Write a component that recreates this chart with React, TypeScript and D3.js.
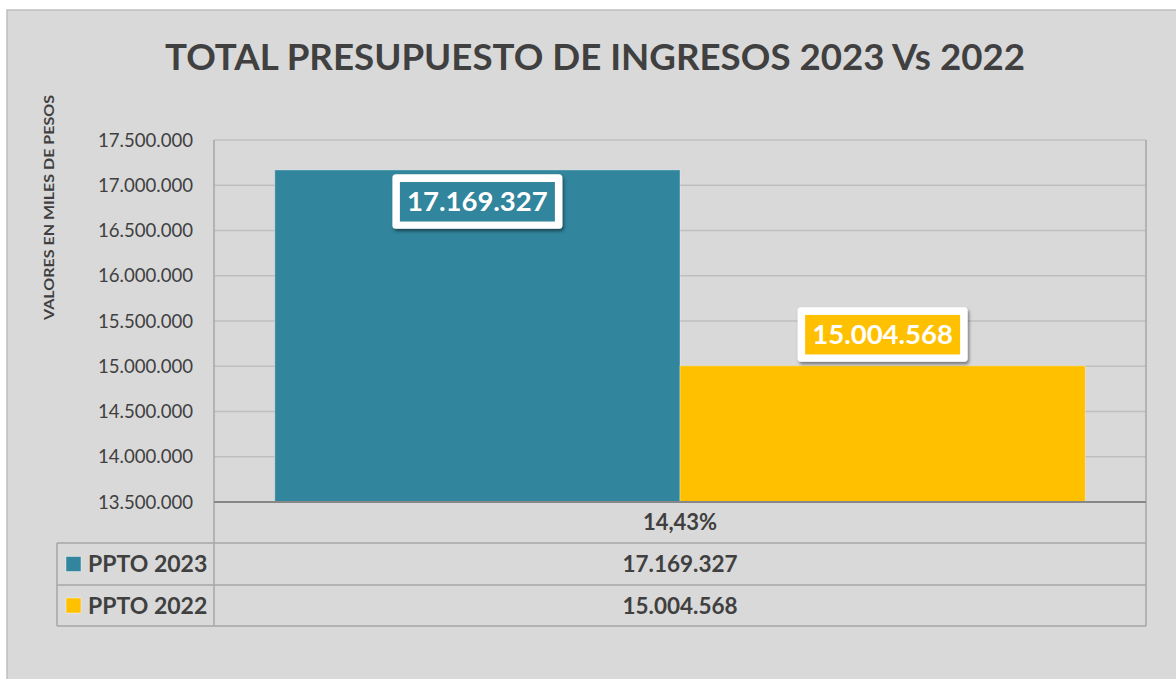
import React from "react";
import * as d3 from "d3";

const title = "TOTAL PRESUPUESTO DE INGRESOS 2023 Vs 2022";
const yAxisTitle = "VALORES EN MILES DE PESOS";
const seriesNames = ["PPTO 2023", "PPTO 2022"];
const seriesValues = [17169327, 15004568];
const seriesColors = ["#31859C", "#FFC000"];
const variationLabels = ["14,43%"];
const yDomain = [13500000, 17500000];
const yTickStep = 500000;

const W = 1176;
const H = 679;
const plotLeft = 214;
const plotRight = 1146;
const plotTop = 140;
const plotBottom = 502;
const tableRows = [502, 543, 585, 626];
const legendLeft = 57;
const textColor = "#404040";
const font = "Lato, 'Open Sans', sans-serif";

const locale = d3.formatLocale({
  decimal: ",",
  thousands: ".",
  grouping: [3],
  currency: ["$", ""],
});
const fmt = locale.format(",.0f");

export default function App() {
  const y = d3.scaleLinear().domain(yDomain).range([plotBottom, plotTop]);
  const ticks = d3.range(yDomain[0], yDomain[1] + 1, yTickStep);
  const x = d3
    .scaleBand<string>()
    .domain(seriesNames)
    .range([plotLeft, plotRight])
    .paddingInner(0)
    .paddingOuter(0.15);
  const midX = (plotLeft + plotRight) / 2;
  const boxW = 170;
  const boxH = 54.5;

  return (
    <svg
      width={W}
      height={H}
      style={{ position: "absolute", left: 0, top: 0, background: "#fff" }}
      fontFamily={font}
    >
      <defs>
        <filter id="sh" x="-20%" y="-30%" width="140%" height="170%">
          <feDropShadow dx="1.5" dy="2.5" stdDeviation="1.8" floodColor="#000" floodOpacity="0.45" />
        </filter>
      </defs>
      <rect x={7} y={10} width={W + 10} height={H + 10} fill="#D9D9D9" stroke="#BFBFBF" strokeWidth={1.5} />

      <text
        x={595}
        y={69.5}
        textAnchor="middle"
        fontSize={36}
        fontWeight={700}
        fill={textColor}
        textLength={860}
        lengthAdjust="spacingAndGlyphs"
      >
        {title}
      </text>

      <text
        transform={`translate(54,207.5) rotate(-90)`}
        textAnchor="middle"
        fontSize={14}
        fontWeight={700}
        fill={textColor}
        textLength={225}
        lengthAdjust="spacingAndGlyphs"
      >
        {yAxisTitle}
      </text>

      {/* gridlines */}
      {ticks.map((t) => (
        <line key={"g" + t} x1={plotLeft} x2={plotRight} y1={y(t)} y2={y(t)} stroke="#BFBFBF" strokeWidth={1.5} />
      ))}
      {/* tick labels */}
      {ticks.map((t) => (
        <text key={"t" + t} x={193} y={y(t)} dy="0.36em" textAnchor="end" fontSize={18.6} fill={textColor}>
          {fmt(t)}
        </text>
      ))}

      {/* bars */}
      {seriesNames.map((s, i) => (
        <rect
          key={"b" + s}
          x={x(s)!}
          y={y(seriesValues[i])}
          width={x.bandwidth()}
          height={plotBottom - y(seriesValues[i])}
          fill={seriesColors[i]}
          stroke="#ffffff"
          strokeOpacity={0.35}
          strokeWidth={1}
        />
      ))}

      {/* table lines */}
      <line x1={plotLeft} x2={plotLeft} y1={plotTop} y2={tableRows[3]} stroke="#A6A6A6" strokeWidth={1.5} />
      <line x1={plotRight} x2={plotRight} y1={plotTop} y2={tableRows[3]} stroke="#A6A6A6" strokeWidth={1.5} />
      <line x1={legendLeft} x2={legendLeft} y1={tableRows[1]} y2={tableRows[3]} stroke="#A6A6A6" strokeWidth={1.5} />
      {tableRows.slice(1).map((r) => (
        <line key={"r" + r} x1={legendLeft} x2={plotRight} y1={r} y2={r} stroke="#A6A6A6" strokeWidth={1.5} />
      ))}
      <line x1={plotLeft} x2={plotRight} y1={plotBottom} y2={plotBottom} stroke="#878787" strokeWidth={2} />

      {/* table values */}
      <text x={midX} y={(tableRows[0] + tableRows[1]) / 2} dy="0.36em" textAnchor="middle" fontSize={22} fontWeight={700} fill={textColor}>
        {variationLabels[0]}
      </text>
      {seriesNames.map((s, i) => {
        const cy = (tableRows[i + 1] + tableRows[i + 2]) / 2;
        return (
          <g key={"row" + s}>
            <rect x={66} y={cy - 7.5} width={15} height={15} fill={seriesColors[i]} stroke="#ffffff" strokeOpacity={0.4} strokeWidth={1} />
            <text x={88} y={cy} dy="0.36em" fontSize={23} fontWeight={700} fill={textColor}>
              {s}
            </text>
            <text x={midX} y={cy} dy="0.36em" textAnchor="middle" fontSize={22.5} fontWeight={700} fill={textColor}>
              {fmt(seriesValues[i])}
            </text>
          </g>
        );
      })}

      {/* data labels */}
      {seriesNames.map((s, i) => {
        const cx = x(s)! + x.bandwidth() / 2;
        const barTop = y(seriesValues[i]);
        const inside = i === 0;
        const by = inside ? barTop + 4.4 : barTop - 4.1 - boxH;
        return (
          <g key={"l" + s}>
            <rect x={cx - boxW / 2} y={by} width={boxW} height={boxH} rx={3.5} fill="#ffffff" filter="url(#sh)" />
            <rect x={cx - 77.5} y={by + 7.7} width={155} height={39.5} fill={seriesColors[i]} />
            <text x={cx} y={by + boxH / 2} dy="0.36em" textAnchor="middle" fontSize={27.5} fontWeight={700} fill="#ffffff">
              {fmt(seriesValues[i])}
            </text>
          </g>
        );
      })}
    </svg>
  );
}
